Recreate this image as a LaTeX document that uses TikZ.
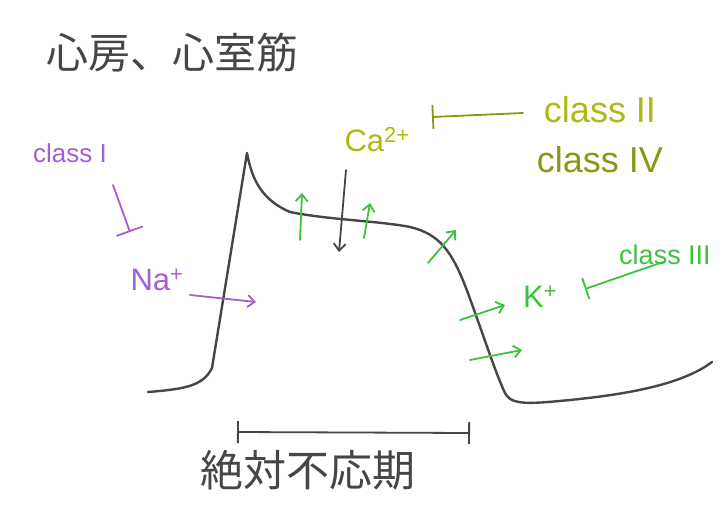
\documentclass[tikz,border=0pt]{standalone}
\usepackage{fontspec}
\setmainfont{Liberation Sans}
\newfontfamily\cjk{Noto Sans CJK JP}
\usetikzlibrary{arrows.meta}
\definecolor{curvec}{RGB}{70,70,70}
\definecolor{purp}{RGB}{165,95,210}
\definecolor{olive}{RGB}{175,185,20}
\definecolor{oliveD}{RGB}{140,150,20}
\definecolor{grn}{RGB}{60,195,60}
\tikzset{
  lbl/.style={inner sep=0pt,anchor=center},
  flow/.style={line width=1.8pt,line cap=round,-{Straight Barb[length=7pt,width=12pt,line width=1.8pt]}},
  block/.style={line width=1.8pt,line cap=round,-{Bar[width=#1,line width=1.8pt]}},
}
\begin{document}
\begin{tikzpicture}[x=1pt,y=-1pt]
\useasboundingbox[fill=white] (0,0) rectangle (722,517);
% action potential
\draw[curvec,line width=2.4pt,line cap=round,line join=round]
  (148,392) .. controls (185,389) and (203,386) .. (212,368)
  -- (247,153)
  .. controls (252,180) and (262,200) .. (290,212)
  .. controls (330,220) and (380,221) .. (410,227)
  .. controls (440,234) and (452,252) .. (466,288)
  .. controls (480,325) and (495,372) .. (505,393)
  .. controls (510,403) and (522,404) .. (548,402)
  .. controls (620,396) and (680,386) .. (712,362);
% title and bracket label
\node[lbl,font=\cjk\fontsize{42}{42}\selectfont,text=curvec] (title) at (172,53) {心房、心室筋};
\node[lbl,font=\cjk\fontsize{43}{43}\selectfont,text=curvec] (arp) at (308,470) {絶対不応期};
\coordinate (brL) at (237,432);
\coordinate (brR) at (470,433);
\draw[curvec,line width=1.8pt,{Bar[width=22pt,line width=1.8pt]}-{Bar[width=22pt,line width=1.8pt]}] (brL) -- (brR);
% class I / Na+
\node[lbl,text=purp,font=\fontsize{26}{26}\selectfont] (c1) at (70,153) {class I};
\node[lbl,text=purp,font=\fontsize{31}{31}\selectfont] (na) at (157,280) {Na\textsuperscript{+}};
\coordinate (c1a) at (113,185);
\coordinate (c1b) at (130,232);
\draw[purp,block=28pt] (c1a) -- (c1b);
\coordinate (naa) at (190,295);
\coordinate (nab) at (256,302);
\draw[purp,flow] (naa) -- (nab);
% Ca2+
\node[lbl,text=olive,font=\fontsize{31}{31}\selectfont] (ca) at (377,140) {Ca\textsuperscript{2+}};
\node[lbl,text=olive,font=\fontsize{36}{36}\selectfont] (c2) at (600,110) {class II};
\node[lbl,text=oliveD,font=\fontsize{36}{36}\selectfont] (c4) at (600,160) {class IV};
\coordinate (c2a) at (523,113);
\coordinate (c2b) at (432,117);
\draw[oliveD,block=24pt] (c2a) -- (c2b);
\coordinate (caa) at (346,170);
\coordinate (cab) at (339,252);
\draw[curvec,flow] (caa) -- (cab);
% green up arrows
\coordinate (g1a) at (300,240); \coordinate (g1b) at (302,193);
\coordinate (g2a) at (364,238); \coordinate (g2b) at (370,203);
\coordinate (g3a) at (428,263); \coordinate (g3b) at (456,230);
\draw[grn,flow] (g1a) -- (g1b);
\draw[grn,flow] (g2a) -- (g2b);
\draw[grn,flow] (g3a) -- (g3b);
% K+
\node[lbl,text=grn,font=\fontsize{31}{31}\selectfont] (k) at (540,297) {K\textsuperscript{+}};
\node[lbl,text=grn,font=\fontsize{27}{27}\selectfont] (c3) at (665,255) {class III};
\coordinate (c3a) at (663,262);
\coordinate (c3b) at (585,289);
\draw[grn,block=22pt] (c3a) -- (c3b);
\coordinate (k1a) at (460,320); \coordinate (k1b) at (505,305);
\coordinate (k2a) at (470,360); \coordinate (k2b) at (522,350);
\draw[grn,flow] (k1a) -- (k1b);
\draw[grn,flow] (k2a) -- (k2b);
\end{tikzpicture}
\end{document}
